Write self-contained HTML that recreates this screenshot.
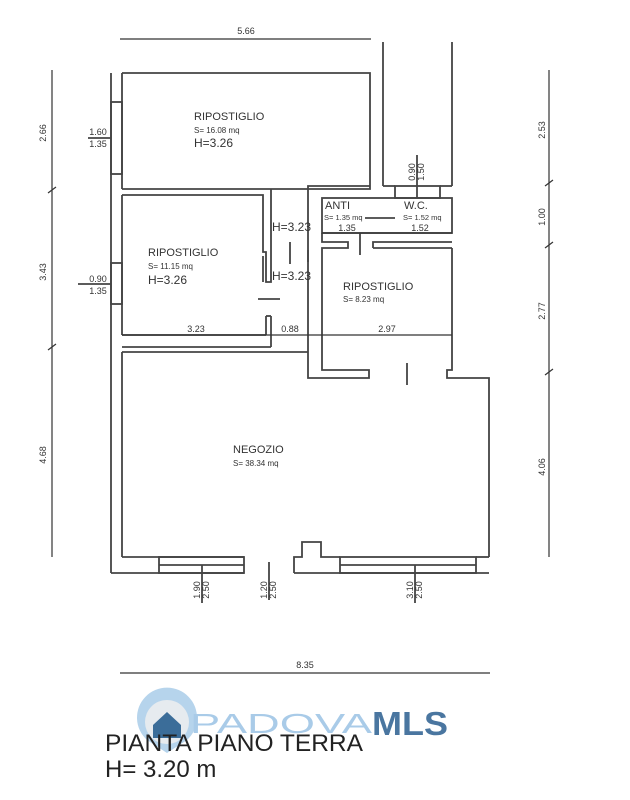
<!DOCTYPE html>
<html><head><meta charset="utf-8"><style>
html,body{margin:0;padding:0;background:#fff}
svg{display:block}
text{font-family:"Liberation Sans",sans-serif;fill:#333}
</style></head><body>
<svg width="630" height="800" viewBox="0 0 630 800" xmlns="http://www.w3.org/2000/svg">
<g stroke="#444" stroke-width="1.8" fill="none">
<line x1="111" y1="73" x2="111" y2="573"/>
<line x1="122" y1="73" x2="122" y2="189"/>
<line x1="122" y1="195" x2="122" y2="335"/>
<line x1="122" y1="352" x2="122" y2="557"/>
<polyline points="122,73 370,73 370,189 271,189"/>
<line x1="122" y1="189" x2="271" y2="189"/>
<polyline points="122,195 263,195 263,252 266,252 266,282 271,282 271,189"/>
<line x1="263" y1="256" x2="263" y2="282"/>
<line x1="266" y1="316" x2="271" y2="316"/>
<line x1="266" y1="316" x2="266" y2="335"/><line x1="271" y1="316" x2="271" y2="347"/>
<line x1="122" y1="335" x2="266" y2="335"/>
<polyline points="122,347 271,347"/>
<line x1="122" y1="352" x2="308" y2="352"/>
<line x1="258" y1="299" x2="280" y2="299"/>
<line x1="290" y1="242" x2="290" y2="264"/>
<polyline points="370,186 308,186 308,378 369,378 369,370 322,370 322,248 348,248 348,242 322,242 322,233"/>
<line x1="308" y1="250" x2="308" y2="262"/>
<rect x="322" y="198" width="130" height="35"/>
<polyline points="373,248 373,242 452,242"/>
<line x1="360" y1="233" x2="360" y2="255"/>
<line x1="373" y1="248" x2="452" y2="248"/>
<line x1="365" y1="218" x2="395" y2="218"/>
<line x1="383" y1="42" x2="383" y2="186"/>
<line x1="452" y1="42" x2="452" y2="186"/>
<line x1="383" y1="186" x2="395" y2="186"/><line x1="440" y1="186" x2="452" y2="186"/>
<rect x="395" y="186" width="45" height="12"/>
<line x1="417" y1="155" x2="417" y2="198"/>
<polyline points="452,248 452,370 447,370 447,378 489,378 489,557"/>
<line x1="407" y1="363" x2="407" y2="385"/>
<line x1="122" y1="557" x2="244" y2="557"/>
<polyline points="111,573 244,573"/>
<rect x="159" y="557" width="85" height="16"/>
<line x1="159" y1="565" x2="244" y2="565"/>
<polyline points="294,573 294,557 302,557 302,542 321,542 321,557 340,557"/>
<line x1="294" y1="573" x2="489" y2="573"/>
<rect x="340" y="557" width="136" height="16"/>
<line x1="340" y1="565" x2="476" y2="565"/>
<line x1="476" y1="557" x2="489" y2="557"/>
<rect x="111" y="102" width="11" height="72"/>
<line x1="88" y1="138" x2="111" y2="138"/>
<rect x="111" y="263" width="11" height="41"/>
<line x1="78" y1="284" x2="111" y2="284"/>
<line x1="202" y1="565" x2="202" y2="603"/>
<line x1="269" y1="562" x2="269" y2="600"/>
<line x1="415" y1="565" x2="415" y2="603"/>
</g>
<g stroke="#333" stroke-width="1.2" fill="none">
<line x1="120" y1="39" x2="371" y2="39"/>
<line x1="52" y1="70" x2="52" y2="557"/>
<line x1="549" y1="70" x2="549" y2="557"/>
<line x1="120" y1="673" x2="490" y2="673"/>
<line x1="122" y1="335" x2="452" y2="335"/>
<line x1="322" y1="233" x2="452" y2="233"/>
<path d="M48 193l8-6M48 350l8-6M545 186l8-6M545 248l8-6M545 375l8-6"/>
</g>
<g font-size="9" text-anchor="middle">
<text x="246" y="34">5.66</text>
<text x="305" y="668">8.35</text>
<text x="196" y="332">3.23</text><text x="290" y="332">0.88</text><text x="387" y="332">2.97</text>
<text x="347" y="231">1.35</text><text x="420" y="231">1.52</text>
<text x="98" y="135">1.60</text><text x="98" y="147">1.35</text>
<text x="98" y="282">0.90</text><text x="98" y="294">1.35</text>
<text transform="translate(46,133) rotate(-90)">2.66</text>
<text transform="translate(46,272) rotate(-90)">3.43</text>
<text transform="translate(46,455) rotate(-90)">4.68</text>
<text transform="translate(545,130) rotate(-90)">2.53</text>
<text transform="translate(545,217) rotate(-90)">1.00</text>
<text transform="translate(545,311) rotate(-90)">2.77</text>
<text transform="translate(545,467) rotate(-90)">4.06</text>
<text transform="translate(200,590) rotate(-90)">1.90</text><text transform="translate(209,590) rotate(-90)">2.50</text>
<text transform="translate(267,590) rotate(-90)">1.20</text><text transform="translate(276,590) rotate(-90)">2.50</text>
<text transform="translate(413,590) rotate(-90)">3.10</text><text transform="translate(422,590) rotate(-90)">2.50</text>
<text transform="translate(415,172) rotate(-90)">0.90</text><text transform="translate(424,172) rotate(-90)">1.50</text>
</g>
<g font-size="11">
<text x="194" y="120">RIPOSTIGLIO</text>
<text x="194" y="133" font-size="8">S= 16.08 mq</text>
<text x="194" y="147" font-size="12">H=3.26</text>
<text x="148" y="256">RIPOSTIGLIO</text>
<text x="148" y="269" font-size="8">S= 11.15 mq</text>
<text x="148" y="284" font-size="12">H=3.26</text>
<text x="272" y="231" font-size="12">H=3.23</text>
<text x="272" y="280" font-size="12">H=3.23</text>
<text x="343" y="290">RIPOSTIGLIO</text>
<text x="343" y="302" font-size="8">S= 8.23 mq</text>
<text x="325" y="209">ANTI</text><text x="404" y="209">W.C.</text>
<text x="324" y="220" font-size="7.5">S= 1.35 mq</text><text x="403" y="220" font-size="7.5">S= 1.52 mq</text>
<text x="233" y="453">NEGOZIO</text>
<text x="233" y="466" font-size="8">S= 38.34 mq</text>
</g>
<path d="M167 753 L147 740 A30 30 0 1 1 187 740 Z" fill="#a9cde9" opacity="0.85"/>
<circle cx="167" cy="722" r="22" fill="#e6ebef"/>
<path d="M153 725l14-13 14 13v13h-28z" fill="#3b6d99"/>
<text x="190" y="733" font-size="28" textLength="182" lengthAdjust="spacingAndGlyphs" style="fill:#a9cbe8">PADOVA</text>
<text x="372" y="735" font-size="33" font-weight="bold" textLength="76" lengthAdjust="spacingAndGlyphs" style="fill:#4a76a0">MLS</text>
<text x="105" y="751" font-size="24" textLength="258" lengthAdjust="spacingAndGlyphs" style="fill:#222">PIANTA PIANO TERRA</text>
<text x="105" y="777" font-size="24" style="fill:#222">H= 3.20 m</text>
</svg>
</body></html>
